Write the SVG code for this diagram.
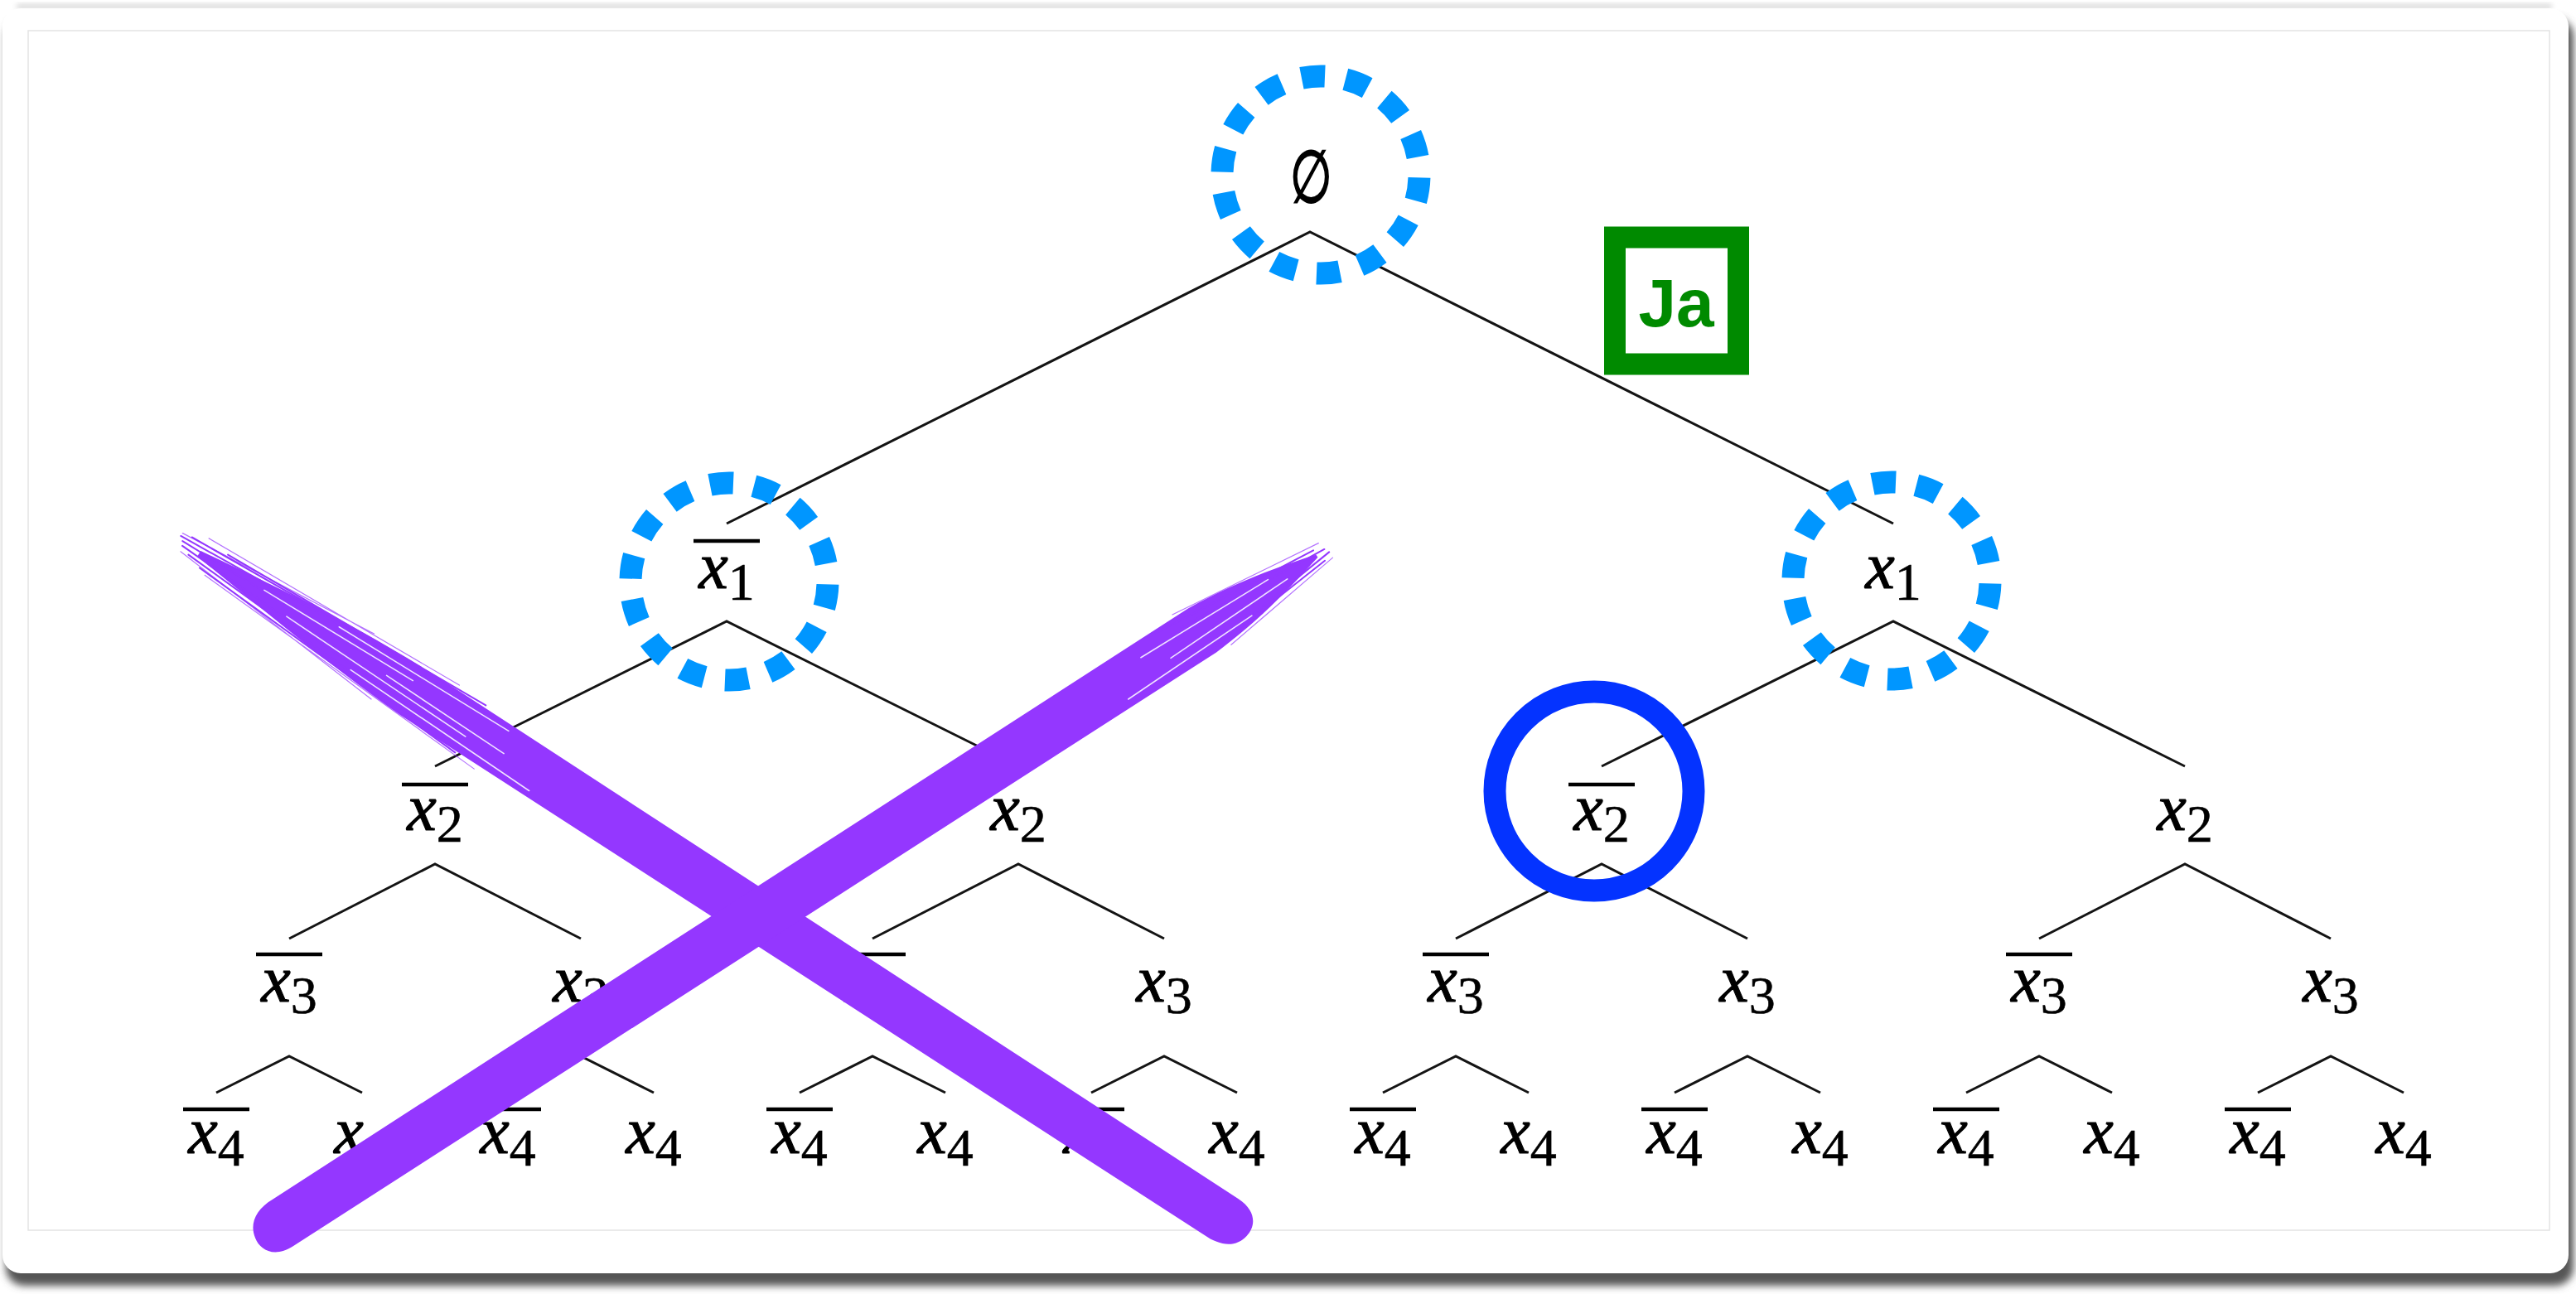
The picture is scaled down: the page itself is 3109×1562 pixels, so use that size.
<svg xmlns="http://www.w3.org/2000/svg" width="3109" height="1562" viewBox="0 0 3109 1562">
<defs>
<filter id="sh" x="-2%" y="-2%" width="104%" height="106%"><feGaussianBlur stdDeviation="5"/></filter>
<filter id="shTop" x="-2%" y="-50%" width="104%" height="200%"><feGaussianBlur stdDeviation="3"/></filter>
<style>
.edge{stroke:#141414;stroke-width:3;fill:none;stroke-linecap:butt}
.lbl{font-size:80px;fill:#000;stroke:#000;stroke-width:1.1;text-anchor:middle}
.v{font-style:italic}
.s{font-size:64px;font-style:normal;stroke-width:0.6}
.bar{stroke:#000;stroke-width:4.5}
.dot{fill:none;stroke:#0096FF;stroke-width:27;stroke-dasharray:0.53 0.47;stroke-dashoffset:0.935}
.purple{fill:#9437FF}
.hair{stroke:#9437FF;fill:none;stroke-linecap:round}
.streak{stroke:#fff;fill:none;stroke-linecap:round}
</style>
</defs>
<rect x="0" y="0" width="3109" height="1562" fill="#fff"/>
<rect x="20" y="5" width="3060" height="6" fill="#d8d8d8" filter="url(#shTop)"/>
<rect x="7" y="22" width="3099" height="1530" rx="22" fill="#555" filter="url(#sh)"/>
<rect x="3" y="10" width="3097" height="1527" rx="22" fill="#fff"/>
<rect x="34" y="37" width="3043" height="1448" fill="none" stroke="#e4e4e4" stroke-width="1.5"/>

<g id="connectors">
<path class="edge" d="M877,632 L1581,280 L2285,632"/>
<path class="edge" d="M525,925 L877,750 L1229,925"/>
<path class="edge" d="M1933,925 L2285,750 L2637,925"/>
<path class="edge" d="M349,1133 L525,1043 L701,1133"/>
<path class="edge" d="M1053,1133 L1229,1043 L1405,1133"/>
<path class="edge" d="M1757,1133 L1933,1043 L2109,1133"/>
<path class="edge" d="M2461,1133 L2637,1043 L2813,1133"/>
<path class="edge" d="M261,1319 L349,1275 L437,1319"/>
<path class="edge" d="M613,1319 L701,1275 L789,1319"/>
<path class="edge" d="M965,1319 L1053,1275 L1141,1319"/>
<path class="edge" d="M1317,1319 L1405,1275 L1493,1319"/>
<path class="edge" d="M1669,1319 L1757,1275 L1845,1319"/>
<path class="edge" d="M2021,1319 L2109,1275 L2197,1319"/>
<path class="edge" d="M2373,1319 L2461,1275 L2549,1319"/>
<path class="edge" d="M2725,1319 L2813,1275 L2901,1319"/>
</g>

<g id="n-root">
<text x="1582" y="244" font-family="DejaVu Serif, serif" font-size="88" stroke="#000" stroke-width="2.2" text-anchor="middle" transform="translate(1582,0) scale(0.66,1) translate(-1582,0)">∅</text>
</g>

<g id="labels" font-family="Liberation Serif, Times New Roman, serif">
<g id="n-l1a"><line class="bar" x1="837" x2="917" y1="653" y2="653"/><text class="lbl" x="877" y="710"><tspan class="v">x</tspan><tspan class="s" dy="14">1</tspan></text></g>
<g id="n-l1b"><text class="lbl" x="2285" y="710"><tspan class="v">x</tspan><tspan class="s" dy="14">1</tspan></text></g>

<g id="n-l2a"><line class="bar" x1="485" x2="565" y1="947" y2="947"/><text class="lbl" x="525" y="1002"><tspan class="v">x</tspan><tspan class="s" dy="14">2</tspan></text></g>
<g id="n-l2b"><text class="lbl" x="1229" y="1002"><tspan class="v">x</tspan><tspan class="s" dy="14">2</tspan></text></g>
<g id="n-l2c"><line class="bar" x1="1893" x2="1973" y1="947" y2="947"/><text class="lbl" x="1933" y="1002"><tspan class="v">x</tspan><tspan class="s" dy="14">2</tspan></text></g>
<g id="n-l2d"><text class="lbl" x="2637" y="1002"><tspan class="v">x</tspan><tspan class="s" dy="14">2</tspan></text></g>

<g id="n-l3a"><line class="bar" x1="309" x2="389" y1="1152" y2="1152"/><text class="lbl" x="349" y="1209"><tspan class="v">x</tspan><tspan class="s" dy="14">3</tspan></text></g>
<g id="n-l3b"><text class="lbl" x="701" y="1209"><tspan class="v">x</tspan><tspan class="s" dy="14">3</tspan></text></g>
<g id="n-l3c"><line class="bar" x1="1013" x2="1093" y1="1152" y2="1152"/><text class="lbl" x="1053" y="1209"><tspan class="v">x</tspan><tspan class="s" dy="14">3</tspan></text></g>
<g id="n-l3d"><text class="lbl" x="1405" y="1209"><tspan class="v">x</tspan><tspan class="s" dy="14">3</tspan></text></g>
<g id="n-l3e"><line class="bar" x1="1717" x2="1797" y1="1152" y2="1152"/><text class="lbl" x="1757" y="1209"><tspan class="v">x</tspan><tspan class="s" dy="14">3</tspan></text></g>
<g id="n-l3f"><text class="lbl" x="2109" y="1209"><tspan class="v">x</tspan><tspan class="s" dy="14">3</tspan></text></g>
<g id="n-l3g"><line class="bar" x1="2421" x2="2501" y1="1152" y2="1152"/><text class="lbl" x="2461" y="1209"><tspan class="v">x</tspan><tspan class="s" dy="14">3</tspan></text></g>
<g id="n-l3h"><text class="lbl" x="2813" y="1209"><tspan class="v">x</tspan><tspan class="s" dy="14">3</tspan></text></g>

<g id="n-l4a"><line class="bar" x1="221" x2="301" y1="1339" y2="1339"/><text class="lbl" x="261" y="1392"><tspan class="v">x</tspan><tspan class="s" dy="15">4</tspan></text></g>
<g id="n-l4b"><text class="lbl" x="437" y="1392"><tspan class="v">x</tspan><tspan class="s" dy="15">4</tspan></text></g>
<g id="n-l4c"><line class="bar" x1="573" x2="653" y1="1339" y2="1339"/><text class="lbl" x="613" y="1392"><tspan class="v">x</tspan><tspan class="s" dy="15">4</tspan></text></g>
<g id="n-l4d"><text class="lbl" x="789" y="1392"><tspan class="v">x</tspan><tspan class="s" dy="15">4</tspan></text></g>
<g id="n-l4e"><line class="bar" x1="925" x2="1005" y1="1339" y2="1339"/><text class="lbl" x="965" y="1392"><tspan class="v">x</tspan><tspan class="s" dy="15">4</tspan></text></g>
<g id="n-l4f"><text class="lbl" x="1141" y="1392"><tspan class="v">x</tspan><tspan class="s" dy="15">4</tspan></text></g>
<g id="n-l4g"><line class="bar" x1="1277" x2="1357" y1="1339" y2="1339"/><text class="lbl" x="1317" y="1392"><tspan class="v">x</tspan><tspan class="s" dy="15">4</tspan></text></g>
<g id="n-l4h"><text class="lbl" x="1493" y="1392"><tspan class="v">x</tspan><tspan class="s" dy="15">4</tspan></text></g>
<g id="n-l4i"><line class="bar" x1="1629" x2="1709" y1="1339" y2="1339"/><text class="lbl" x="1669" y="1392"><tspan class="v">x</tspan><tspan class="s" dy="15">4</tspan></text></g>
<g id="n-l4j"><text class="lbl" x="1845" y="1392"><tspan class="v">x</tspan><tspan class="s" dy="15">4</tspan></text></g>
<g id="n-l4k"><line class="bar" x1="1981" x2="2061" y1="1339" y2="1339"/><text class="lbl" x="2021" y="1392"><tspan class="v">x</tspan><tspan class="s" dy="15">4</tspan></text></g>
<g id="n-l4l"><text class="lbl" x="2197" y="1392"><tspan class="v">x</tspan><tspan class="s" dy="15">4</tspan></text></g>
<g id="n-l4m"><line class="bar" x1="2333" x2="2413" y1="1339" y2="1339"/><text class="lbl" x="2373" y="1392"><tspan class="v">x</tspan><tspan class="s" dy="15">4</tspan></text></g>
<g id="n-l4n"><text class="lbl" x="2549" y="1392"><tspan class="v">x</tspan><tspan class="s" dy="15">4</tspan></text></g>
<g id="n-l4o"><line class="bar" x1="2685" x2="2765" y1="1339" y2="1339"/><text class="lbl" x="2725" y="1392"><tspan class="v">x</tspan><tspan class="s" dy="15">4</tspan></text></g>
<g id="n-l4p"><text class="lbl" x="2901" y="1392"><tspan class="v">x</tspan><tspan class="s" dy="15">4</tspan></text></g>
</g>

<g id="mark-dotted-root"><circle class="dot" cx="1594" cy="211" r="119" pathLength="14"/></g>
<g id="mark-dotted-x1bar"><circle class="dot" cx="880" cy="702" r="119" pathLength="14"/></g>
<g id="mark-dotted-x1"><circle class="dot" cx="2283" cy="701" r="119" pathLength="14"/></g>
<g id="mark-circle-x2bar"><circle cx="1924" cy="955" r="120" fill="none" stroke="#0433FF" stroke-width="27"/></g>

<g id="mark-ja">
<rect x="1949" y="286.5" width="149" height="153" fill="#fff" stroke="#008A00" stroke-width="26"/>
<text x="2023" y="394" font-family="Liberation Sans, Arial, sans-serif" font-weight="bold" font-size="82" fill="#008A00" text-anchor="middle">Ja</text>
</g>

<g id="mark-cross">
<g transform="translate(215,652) rotate(33)">
<path class="purple" d="M30,-4 C120,-16 220,-30 340,-32 L1506,-30 C1534,-30 1542,-12 1539,2 C1536,20 1520,30 1495,29 L340,31 C230,27 130,14 30,4 Z"/>
<path class="hair" stroke-width="2" d="M0,-6 L300,-26 M5,-2 L280,-8 M8,3 L320,14 M20,8 L380,26 M12,-12 L360,-32 M40,14 L420,33 M60,-18 L420,-35"/>
<path class="hair" stroke-width="1.2" opacity="0.7" d="M0,-10 L260,-34 M10,10 L300,34 M30,-22 L380,-38 M50,18 L450,37"/>
<path class="streak" stroke-width="1.6" opacity="0.85" d="M120,-6 L330,-12 M160,6 L420,10 M220,-18 L460,-24 M260,18 L520,23 M300,0 L470,2"/>
</g>
<g transform="translate(1602,663) rotate(147.2)">
<path class="purple" d="M15,-2 C60,-14 110,-27 180,-32 L1505,-31 C1533,-31 1541,-12 1538,2 C1535,20 1519,31 1495,30 L180,31 C110,26 60,14 15,2 Z"/>
<path class="hair" stroke-width="2" d="M0,-4 L180,-24 M3,2 L200,16 M10,-10 L220,-30 M15,8 L240,28"/>
<path class="hair" stroke-width="1.2" opacity="0.7" d="M0,-12 L160,-34 M5,12 L200,35"/>
<path class="streak" stroke-width="1.6" opacity="0.85" d="M60,-4 L230,-8 M80,8 L260,12 M120,-18 L300,-22"/>
</g>
</g>
</svg>
